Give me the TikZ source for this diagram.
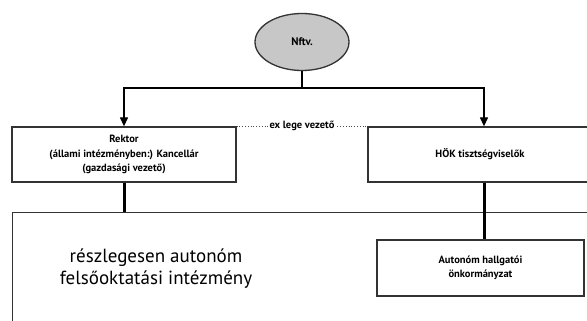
\documentclass[tikz,border=0pt]{standalone}
\usepackage{fontspec}
\setmainfont{PT Sans}
\usetikzlibrary{arrows.meta}
\usetikzlibrary{shapes.geometric}
\usetikzlibrary{calc}
\tikzset{>=Latex}
\tikzset{
	box/.style={draw=black!80, line width=1.3pt, rectangle, align=center, inner sep=0pt, font=\bfseries\fontsize{10.5}{14.5}\selectfont},
	thickline/.style={line width=3pt},
	feed/.style={line width=1.3pt, ->, >={Triangle[length=9pt,width=8pt]}}
}
\begin{document}
\begin{tikzpicture}[x=1pt,y=-1pt]
		\useasboundingbox (0,0) rectangle (587,321);
		\clip (0,0) rectangle (587,321);
		\node[draw=black!80, line width=1.3pt, fill=black!22, ellipse, minimum width=94pt, minimum height=57pt, font=\bfseries\fontsize{11}{13}\selectfont] (nftv) at (302,42) {Nftv.};
		\node[box, minimum width=224pt, minimum height=55pt] (rektor) at (124,154.5) {Rektor\\(állami intézményben:) Kancellár\\(gazdasági vezető)};
		\node[box, minimum width=232pt, minimum height=55pt] (hok) at (484,154.5) {\hspace*{-4pt}HÖK tisztségviselők\hspace*{4pt}};
		\node[box, minimum width=588pt, minimum height=130pt, anchor=north west] (intezmeny) at (12,212) {};
		\node[font=\fontsize{19}{22}\selectfont, align=center] (intezmenytext) at (156,269) {részlegesen autonóm\\felsőoktatási intézmény};
		\node[box, minimum width=207pt, minimum height=56pt, font=\bfseries\fontsize{10.5}{13.5}\selectfont] (onkorm) at (480.5,268) {Autonóm hallgatói\\önkormányzat};
		\coordinate (split) at (302,88);
		\draw[line width=1.3pt] (nftv.south) -- (split);
		\draw[feed] (split) -| (rektor.north);
		\draw[feed] (split) -| (hok.north);
		\draw[thickline] (rektor.south) -- (rektor.south |- intezmeny.north);
		\draw[thickline] (hok.south) -- (hok.south |- onkorm.north);
		\draw[line width=0.8pt, dotted, black!70] (rektor.north east) -- (hok.north west) node[midway, fill=white, inner sep=2pt, text=black, font=\bfseries\fontsize{10.5}{13}\selectfont] (exlege) {ex lege vezető};
	\end{tikzpicture}
\end{document}
